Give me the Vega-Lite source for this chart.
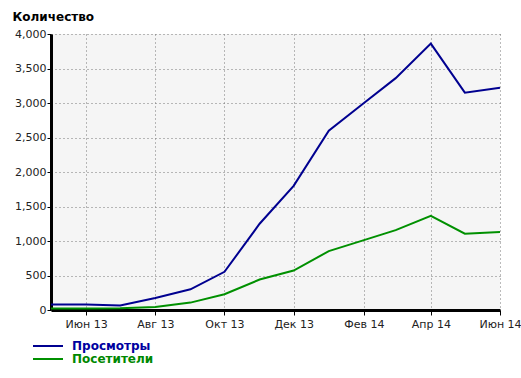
{
  "$schema": "https://vega.github.io/schema/vega-lite/v6.json",
  "width": 449,
  "height": 276,
  "autosize": "none",
  "padding": {"left": 51, "top": 34, "right": 21, "bottom": 68},
  "background": "white",
  "config": {
    "view": {"fill": "#f5f5f5", "stroke": null},
    "font": "DejaVu Sans"
  },
  "data": {
    "format": {"parse": {"month": "date:'%Y-%m'"}},
    "values": [
      {"series": "Просмотры", "month": "2013-05", "value": 80},
      {"series": "Просмотры", "month": "2013-06", "value": 80},
      {"series": "Просмотры", "month": "2013-07", "value": 65},
      {"series": "Просмотры", "month": "2013-08", "value": 175},
      {"series": "Просмотры", "month": "2013-09", "value": 300},
      {"series": "Просмотры", "month": "2013-10", "value": 553},
      {"series": "Просмотры", "month": "2013-11", "value": 1250},
      {"series": "Просмотры", "month": "2013-12", "value": 1800},
      {"series": "Просмотры", "month": "2014-01", "value": 2600},
      {"series": "Просмотры", "month": "2014-02", "value": 3000},
      {"series": "Просмотры", "month": "2014-03", "value": 3360},
      {"series": "Просмотры", "month": "2014-04", "value": 3860},
      {"series": "Просмотры", "month": "2014-05", "value": 3150},
      {"series": "Просмотры", "month": "2014-06", "value": 3220},
      {"series": "Посетители", "month": "2013-05", "value": 20},
      {"series": "Посетители", "month": "2013-06", "value": 20},
      {"series": "Посетители", "month": "2013-07", "value": 25},
      {"series": "Посетители", "month": "2013-08", "value": 45},
      {"series": "Посетители", "month": "2013-09", "value": 107},
      {"series": "Посетители", "month": "2013-10", "value": 228},
      {"series": "Посетители", "month": "2013-11", "value": 441},
      {"series": "Посетители", "month": "2013-12", "value": 572},
      {"series": "Посетители", "month": "2014-01", "value": 853},
      {"series": "Посетители", "month": "2014-02", "value": 1013},
      {"series": "Посетители", "month": "2014-03", "value": 1158},
      {"series": "Посетители", "month": "2014-04", "value": 1366},
      {"series": "Посетители", "month": "2014-05", "value": 1105},
      {"series": "Посетители", "month": "2014-06", "value": 1130}
    ]
  },
  "mark": {"type": "line", "strokeWidth": 2},
  "encoding": {
    "x": {
      "field": "month",
      "type": "temporal",
      "scale": {"domain": [{"year": 2013, "month": 5, "date": 1}, {"year": 2014, "month": 6, "date": 1}]},
      "axis": {
        "title": null,
        "values": [
          {"year": 2013, "month": 6, "date": 1},
          {"year": 2013, "month": 8, "date": 1},
          {"year": 2013, "month": 10, "date": 1},
          {"year": 2013, "month": 12, "date": 1},
          {"year": 2014, "month": 2, "date": 1},
          {"year": 2014, "month": 4, "date": 1},
          {"year": 2014, "month": 6, "date": 1}
        ],
        "labelExpr": "['Янв','Фев','Мар','Апр','Май','Июн','Июл','Авг','Сен','Окт','Ноя','Дек'][month(datum.value)] + ' ' + timeFormat(datum.value, '%y')",
        "grid": true,
        "gridColor": "#777777",
        "gridDash": [1, 3],
        "gridWidth": 1,
        "domainColor": "black",
        "domainWidth": 3,
        "tickColor": "black",
        "tickSize": 5,
        "tickWidth": 1,
        "labelFontSize": 11,
        "labelColor": "#222222",
        "labelPadding": 3,
        "labelOverlap": false,
        "labelBound": false,
        "labelFlush": false
      }
    },
    "y": {
      "field": "value",
      "type": "quantitative",
      "scale": {"domain": [0, 4000], "nice": false},
      "axis": {
        "values": [0, 500, 1000, 1500, 2000, 2500, 3000, 3500, 4000],
        "format": ",d",
        "grid": true,
        "gridColor": "#777777",
        "gridDash": [1, 3],
        "gridWidth": 1,
        "domainColor": "black",
        "domainWidth": 3,
        "tickColor": "black",
        "tickSize": 4,
        "tickWidth": 1,
        "labelFontSize": 11,
        "labelColor": "#222222",
        "labelPadding": 1,
        "title": "Количество",
        "titleAngle": 0,
        "titleX": -39,
        "titleY": -14,
        "titleAlign": "left",
        "titleBaseline": "alphabetic",
        "titleFontWeight": "bold",
        "titleFontSize": 12,
        "titleColor": "black"
      }
    },
    "color": {
      "field": "series",
      "type": "nominal",
      "scale": {"domain": ["Просмотры", "Посетители"], "range": ["#000090", "#009000"]},
      "legend": {
        "title": null,
        "orient": "none",
        "legendX": -9,
        "legendY": 306,
        "padding": 0,
        "direction": "vertical",
        "symbolType": "M-3,0H3",
        "symbolSize": 100,
        "symbolStrokeWidth": 2,
        "labelOffset": 18,
        "rowPadding": 1,
        "labelFontSize": 12,
        "labelFontWeight": "bold",
        "labelColor": {"expr": "datum.label == 'Просмотры' ? '#0000a0' : '#008800'"}
      }
    }
  }
}
